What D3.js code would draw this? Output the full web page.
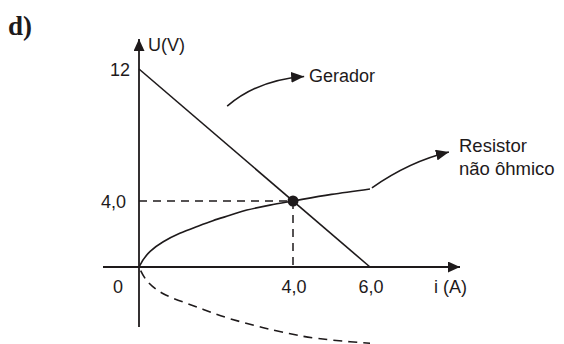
<!DOCTYPE html>
<html><head><meta charset="utf-8">
<script src="https://cdn.jsdelivr.net/npm/d3@7"></script>
<style>
html,body{margin:0;padding:0;background:#fff;}
svg{display:block;}
text{font-family:"Liberation Sans",Arial,Helvetica,sans-serif;fill:#1e1a1b;}
</style></head>
<body>
<svg id="c" width="564" height="344"></svg>
<script>
// ---- data (i in A, U in V) ----
const panelLabel = "d)";
const xTickValues = [0, 4, 6];
const xTickLabels = ["0", "4,0", "6,0"];
const yTickValues = [12, 4];
const yTickLabels = ["12", "4,0"];
const xAxisTitle = "i (A)";
const yAxisTitle = "U(V)";
const generatorI = [0, 6];
const generatorU = [12, 0];
const resistorI = [0, 0.29, 0.63, 1.06, 1.49, 1.92, 2.36, 2.80, 3.40, 4.0, 5.0, 6.0];
const resistorU = [0, 0.95, 1.53, 2.04, 2.44, 2.81, 3.13, 3.45, 3.75, 4.0, 4.4, 4.73];
const mirrorI = [0, 0.63, 1.5, 2.36, 3.1, 3.75, 4.62, 5.48, 6.0];
const mirrorU = [0, -1.62, -2.42, -3.13, -3.6, -3.96, -4.32, -4.53, -4.62];
const operatingPoint = [4, 4];
const generatorLabel = "Gerador";
// annotation arrows: start, control, tip (data units)
const generatorArrowI = [2.29, 3.09, 4.29];
const generatorArrowU = [9.75, 11.35, 11.55];
const resistorLabel = ["Resistor", "não ôhmico"];
const resistorArrowI = [6.05, 7.03, 8.05];
const resistorArrowU = [4.8, 6.4, 6.97];

// ---- layout ----
const svg = d3.select("#c");
const x = d3.scaleLinear().domain([0, 6]).range([139, 370]);
const y = d3.scaleLinear().domain([0, 12]).range([267, 69]);
const ink = "#1e1a1b";

const defs = svg.append("defs");
function marker(id, len, half) {
  defs.append("marker").attr("id", id)
    .attr("viewBox", `0 ${-half} ${len} ${2*half}`)
    .attr("refX", len).attr("refY", 0)
    .attr("markerUnits", "userSpaceOnUse")
    .attr("markerWidth", len).attr("markerHeight", 2*half)
    .attr("orient", "auto")
    .append("path").attr("d", `M0,${-half}L${len},0L0,${half}Z`).attr("fill", ink);
}
marker("ax", 12, 5.5);
marker("an", 13, 5.5);

// panel label
svg.append("text").attr("x", 8).attr("y", 35)
  .style("font-family", '"Liberation Serif","Times New Roman",serif')
  .style("font-weight", "bold").style("font-size", "27px").text(panelLabel);

// axes
svg.append("line").attr("x1", 103).attr("y1", y(0)).attr("x2", 460).attr("y2", y(0))
  .attr("stroke", ink).attr("stroke-width", 1.8).attr("marker-end", "url(#ax)");
svg.append("line").attr("x1", x(0)).attr("y1", 327).attr("x2", x(0)).attr("y2", 39)
  .attr("stroke", ink).attr("stroke-width", 1.8).attr("marker-end", "url(#ax)");

// guide dashes
svg.append("line").attr("x1", x(0)).attr("x2", x(operatingPoint[0]))
  .attr("y1", y(operatingPoint[1])).attr("y2", y(operatingPoint[1]))
  .attr("stroke", ink).attr("stroke-width", 1.5).attr("stroke-dasharray", "8,6");
svg.append("line").attr("x1", x(operatingPoint[0])).attr("x2", x(operatingPoint[0]))
  .attr("y1", y(operatingPoint[1])).attr("y2", y(0))
  .attr("stroke", ink).attr("stroke-width", 1.5).attr("stroke-dasharray", "8,6");

const line = d3.line().x(d => x(d[0])).y(d => y(d[1]));
const smooth = d3.line().x(d => x(d[0])).y(d => y(d[1])).curve(d3.curveMonotoneY);

// generator line
svg.append("path").datum(generatorI.map((v, k) => [v, generatorU[k]]))
  .attr("d", line).attr("fill", "none").attr("stroke", ink).attr("stroke-width", 1.6);
// resistor curve
svg.append("path").datum(resistorI.map((v, k) => [v, resistorU[k]]))
  .attr("d", smooth).attr("fill", "none").attr("stroke", ink).attr("stroke-width", 1.6);
// mirrored dashed branch
svg.append("path").datum(mirrorI.map((v, k) => [v, mirrorU[k]]))
  .attr("d", smooth).attr("fill", "none").attr("stroke", ink).attr("stroke-width", 1.6)
  .attr("stroke-dasharray", "9,6").attr("stroke-dashoffset", -4);

// operating point
svg.append("circle").attr("cx", x(operatingPoint[0])).attr("cy", y(operatingPoint[1]))
  .attr("r", 5.5).attr("fill", ink);

// tick labels
const fs = "18px";
svg.selectAll(".xt").data(xTickValues).join("text")
  .attr("x", (d, k) => k === 0 ? 118 : x(d) + 1).attr("y", 293)
  .attr("text-anchor", "middle").style("font-size", fs).text((d, k) => xTickLabels[k]);
svg.selectAll(".yt").data(yTickValues).join("text")
  .attr("x", (d, k) => k === 0 ? 130 : 126).attr("y", d => y(d) + 6.5)
  .attr("text-anchor", "end").style("font-size", fs).text((d, k) => yTickLabels[k]);

svg.append("text").attr("x", 434).attr("y", 293).style("font-size", fs).text(xAxisTitle);
svg.append("text").attr("x", 148).attr("y", 51).style("font-size", fs).text(yAxisTitle);

// annotations (quadratic curves through scales)
function arrowPath(I, U) {
  const p = d3.path();
  p.moveTo(x(I[0]), y(U[0]));
  p.quadraticCurveTo(x(I[1]), y(U[1]), x(I[2]), y(U[2]));
  return p.toString();
}
svg.append("path").attr("d", arrowPath(generatorArrowI, generatorArrowU))
  .attr("fill", "none").attr("stroke", ink).attr("stroke-width", 1.6).attr("marker-end", "url(#an)");
svg.append("text").attr("x", 309).attr("y", 82).style("font-size", fs).text(generatorLabel);

svg.append("path").attr("d", arrowPath(resistorArrowI, resistorArrowU))
  .attr("fill", "none").attr("stroke", ink).attr("stroke-width", 1.6).attr("marker-end", "url(#an)");
svg.selectAll(".rl").data(resistorLabel).join("text")
  .attr("x", 459).attr("y", (d, k) => 152 + k * 23).style("font-size", "18.5px").text(d => d);
</script>
</body></html>
